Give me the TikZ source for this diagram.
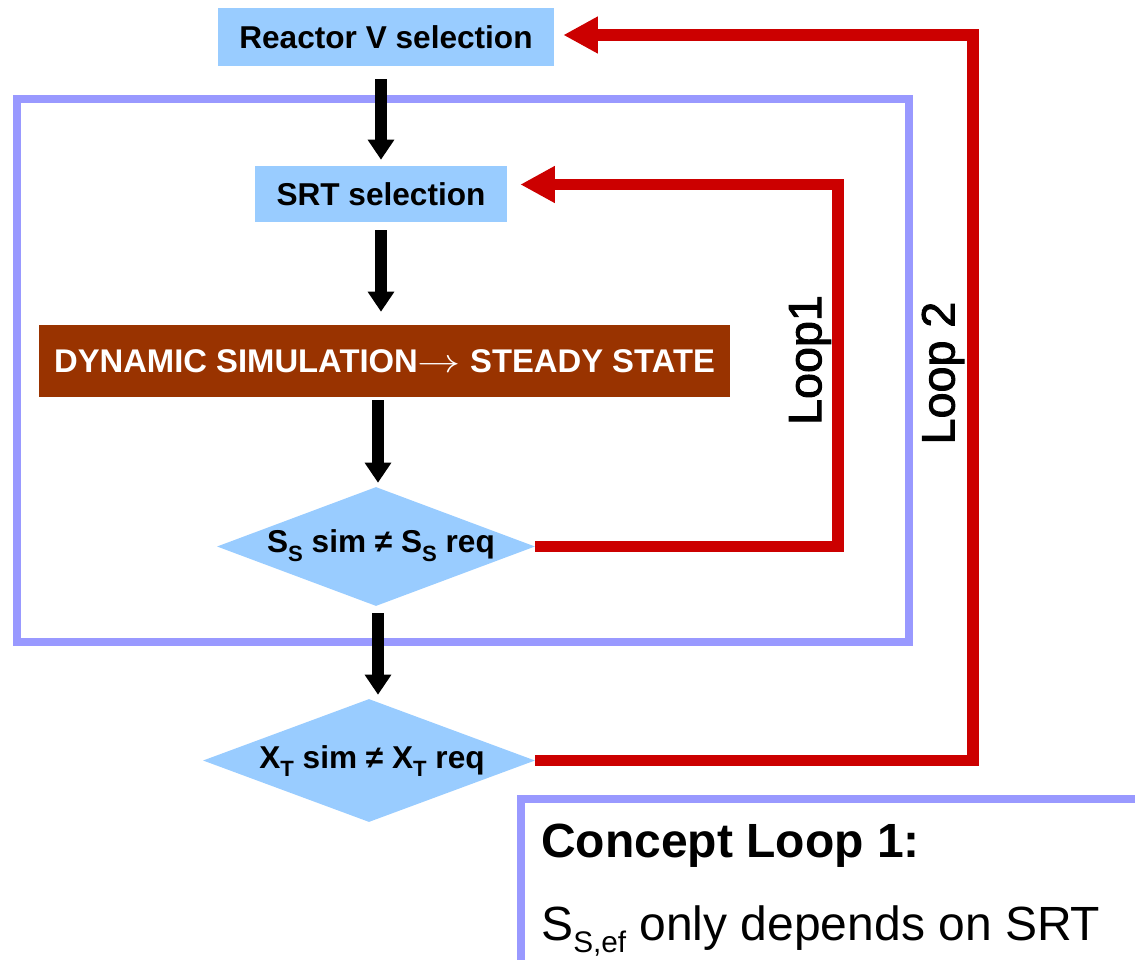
\documentclass[tikz,border=0pt]{standalone}
\usepackage{fontspec}
\setmainfont{Liberation Sans}
\newfontfamily\loopfont[FakeBold=2]{Liberation Sans}
\usepackage{graphicx}
\usetikzlibrary{arrows.meta,shapes.geometric}

\definecolor{boxblue}{HTML}{99CCFF}
\definecolor{simbrown}{HTML}{993300}
\definecolor{loopred}{HTML}{CC0000}
\definecolor{frameblue}{HTML}{9999FF}

% lowered, scaled subscript: #1 raise, #2 scale, #3 text
\newcommand\lowsub[3]{\raisebox{#1}{\scalebox{#2}{#3}}}
\newcommand\boxfont{\fontsize{23.7}{28}\selectfont\bfseries}

\tikzset{
  selbox/.style={rectangle, fill=boxblue, inner sep=0pt, font=\boxfont},
  simbox/.style={rectangle, fill=simbrown, text=white, inner sep=0pt, font=\fontsize{24.6}{28}\selectfont\bfseries},
  decision/.style={diamond, fill=boxblue, inner sep=0pt},
  flowarrow/.style={draw=black, line width=9pt, -{Triangle[width=19pt,length=15pt]}},
  looparrow/.style={draw=loopred, line width=8.5pt, -{Triangle[width=26pt,length=26pt]}},
  frameline/.style={draw=frameblue, line width=6pt, fill=none, inner sep=0pt},
  looplabel/.style={rotate=90, inner sep=0pt, font=\loopfont\fontsize{35}{40}\selectfont},
  concepttext/.style={anchor=base west, inner sep=0pt},
}

\begin{document}
\begin{tikzpicture}[x=0.75pt, y=-0.75pt]
  \useasboundingbox (0,0) rectangle (1135,960);
  \clip (0,0) rectangle (1135,960);

  % outer frame around loop 1
  \node[frameline, minimum width=892.5*0.75pt, minimum height=543.5*0.75pt] (frame) at (462.75,370.25) {};

  % process steps
  \node[selbox, minimum width=336*0.75pt, minimum height=58*0.75pt] (rv) at (386,37) {Reactor V selection};
  \node[selbox, minimum width=252*0.75pt, minimum height=56*0.75pt] (srt) at (381,194) {SRT selection};
  \node[simbox, minimum width=691*0.75pt, minimum height=72*0.75pt] (dyn) at (384.5,361)
    {DYNAMIC SIMULATION\scalebox{1.3}[1]{$\rightarrow$} STEADY STATE};

  % decisions
  \node[decision, minimum width=318*0.75pt, minimum height=119*0.75pt] (d1) at (376,546.5) {};
  \node[font=\boxfont, inner sep=0pt] (d1t) at (381,546)
    {S\lowsub{-0.28em}{0.7}{S} sim ≠ S\lowsub{-0.28em}{0.7}{S} req};
  \node[decision, minimum width=332*0.75pt, minimum height=123*0.75pt] (d2) at (369,760.5) {};
  \node[font=\boxfont, inner sep=0pt] (d2t) at (372,761)
    {X\lowsub{-0.28em}{0.7}{T} sim ≠ X\lowsub{-0.28em}{0.7}{T} req};

  % main flow
  \draw[flowarrow, shorten <=9.75pt, shorten >=4.5pt] (srt.north |- rv.south) -- (srt.north);
  \draw[flowarrow, shorten <=6pt, shorten >=9.75pt] (srt.south) -- (srt.south |- dyn.north);
  \draw[flowarrow, shorten <=2.25pt, shorten >=3pt] ([xshift=1.5pt]d1.north |- dyn.south) -- ([xshift=1.5pt]d1.north);
  \draw[flowarrow, shorten <=5.25pt, shorten >=3pt] ([xshift=1.5pt]d1.south) -- ([xshift=1.5pt]d1.south |- d2.north);

  % feedback loops
  \coordinate (l1) at (838,184.5);
  \coordinate (l2) at (973,35);
  \draw[looparrow, shorten >=9.75pt] (d1.east) -- (d1.east -| l1) -- (l1) -- (srt.east |- l1);
  \draw[looparrow, shorten >=6.75pt] (d2.east) -- (d2.east -| l2) -- (l2) -- (rv.east |- l2);

  \node[looplabel] (lab1) at (810,360) {Loop1};
  \node[looplabel] (lab2) at (943,373) {Loop 2};

  % concept note
  \node[frameline, anchor=north west, minimum width=700*0.75pt, minimum height=300*0.75pt] (concept) at (517,795) {};
  \node[concepttext, font=\fontsize{36}{42}\selectfont\bfseries] (ctitle) at (541,857) {Concept Loop 1:};
  \node[concepttext, font=\fontsize{36}{42}\selectfont] (cbody) at (541,940)
    {S\lowsub{-0.26em}{0.62}{S,ef} only depends on SRT};
\end{tikzpicture}
\end{document}
